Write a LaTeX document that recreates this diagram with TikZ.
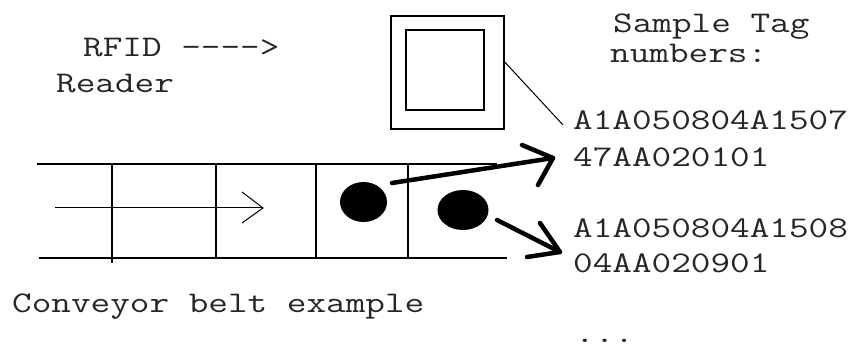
\documentclass[tikz,border=0pt]{standalone}
\usepackage{fontspec}
\usepackage{graphicx}
\usetikzlibrary{shapes.geometric}
% wide typewriter lettering
\newcommand{\tw}[1]{\scalebox{1.27}[1]{#1}}
\begin{document}
\begin{tikzpicture}[x=1pt,y=-1pt,
  label/.style={anchor=base west,inner sep=0pt,font=\fontsize{30}{33}\selectfont\ttfamily,text=black!85},
  belt/.style={line width=1.5pt},
  frame/.style={draw,line width=1.5pt,inner sep=0pt},
  thin/.style={line width=1pt},
  fat/.style={line width=4.5pt,line cap=round,line join=round},
  dot/.style={ellipse,fill=black,inner sep=0pt}]
\useasboundingbox (0,0) rectangle (855,352);
% reader box
\node[frame,minimum width=113pt,minimum height=113pt] (reader) at (447.5,72.5) {};
\node[frame,minimum width=78pt,minimum height=80pt] (screen) at (445,70) {};
% labels
\node[label] (rfid) at (83,57) {\tw{RFID ---->}};
\node[label] (rdr) at (56,93) {\tw{Reader}};
\node[label] (samp) at (613,33) {\tw{Sample Tag}};
\node[label] (numb) at (610,63) {\tw{numbers:}};
\node[label] (tag1a) at (573,130) {\tw{A1A050804A1507}};
\node[label] (tag1b) at (573,167) {\tw{47AA020101}};
\node[label] (tag2a) at (573,238) {\tw{A1A050804A1508}};
\node[label] (tag2b) at (573,273) {\tw{04AA020901}};
\node[label] (more) at (575,343) {\tw{...}};
\node[label] (conv) at (12,313) {\tw{Conveyor belt example}};
% leader from reader to first tag
\coordinate (lead) at (563,125);
\draw[thin] (reader.east |- 0,62) -- (lead);
% conveyor belt
\coordinate (b1) at (37,164); \coordinate (b2) at (497,164);
\coordinate (b3) at (39,258); \coordinate (b4) at (507,258);
\draw[belt] (b1) -- (b2);
\draw[belt] (b3) -- (b4);
\draw[belt] (112,164) -- (112,263);
\foreach \x in {216,316,408} \draw[belt] (\x,164) -- (\x,258);
% direction of travel
\coordinate (m1) at (55,208); \coordinate (m2) at (263,208);
\draw[thin] (m1) -- (m2);
\draw[thin] (m2) ++(-21,-16) -- (m2) -- ++(-21,15);
% tags on the belt
\node[dot,minimum width=47pt,minimum height=40pt] (dot1) at (363.5,202) {};
\node[dot,minimum width=51pt,minimum height=40pt] (dot2) at (463,210) {};
% read arrows
\coordinate (a1s) at (392,183); \coordinate (a1t) at (553,158);
\coordinate (a2s) at (497,220); \coordinate (a2t) at (560,252);
\draw[fat] (a1s) -- (a1t);
\draw[fat] (a1t) ++(-31,-13) -- (a1t) -- ++(-15,27);
\draw[fat] (a2s) -- (a2t);
\draw[fat] (a2t) ++(-20,-29) -- (a2t) -- ++(-33,5);
\end{tikzpicture}
\end{document}
